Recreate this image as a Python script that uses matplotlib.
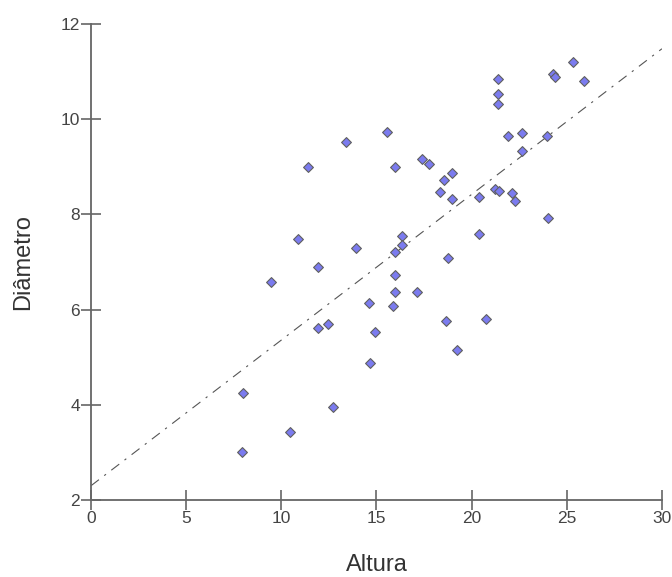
import matplotlib
matplotlib.use('Agg')
import matplotlib.pyplot as plt
import numpy as np

plt.rcParams['font.family'] = ['Liberation Sans', 'DejaVu Sans']

# Altura (x) vs Diâmetro (y)
altura = [7.95, 8.0, 9.44, 10.46, 10.88, 11.42, 11.94, 11.94, 12.45, 12.73,
          13.40, 13.94, 14.59, 14.66, 14.94, 15.57, 15.96, 15.96, 15.96, 15.96,
          15.87, 16.34, 16.34, 17.11, 17.39, 17.75, 18.34, 18.57, 18.65, 18.78,
          18.95, 18.95, 19.25, 20.40, 20.40, 20.74, 21.25, 21.44, 21.40, 21.40,
          21.40, 21.93, 22.10, 22.28, 22.65, 22.65, 23.96, 24.03, 24.30, 24.36,
          25.31, 25.91]
diametro = [3.01, 4.25, 6.58, 3.43, 7.49, 9.00, 6.90, 5.61, 5.70, 3.95,
            9.53, 7.30, 6.14, 4.88, 5.54, 9.73, 9.00, 7.22, 6.72, 6.38,
            6.08, 7.55, 7.36, 6.36, 9.16, 9.06, 8.47, 8.72, 5.77, 7.08,
            8.86, 8.32, 5.15, 8.37, 7.58, 5.80, 8.53, 8.49, 10.84, 10.54,
            10.32, 9.65, 8.44, 8.28, 9.70, 9.34, 9.65, 7.93, 10.94, 10.88,
            11.21, 10.80]

# fitted line
intercept = 2.30
slope = 0.306

fig = plt.figure(figsize=(6.72, 5.77), dpi=100)
ax = fig.add_axes([0.1354, 0.1334, 0.8496, 0.825])

xs = np.array([0, 30])
ax.plot(xs, intercept + slope * xs, color='#555555', lw=0.8,
        dashes=(9, 6, 2, 6), zorder=1)
ax.scatter(altura, diametro, marker='D', s=25, color='#7b7bef',
           edgecolors='#606060', linewidths=0.8, zorder=2)

ax.set_xlim(0, 30)
ax.set_ylim(2, 12)
ax.set_xticks(range(0, 31, 5))
ax.set_yticks(range(2, 13, 2))

for side in ['top', 'right']:
    ax.spines[side].set_visible(False)
for side in ['left', 'bottom']:
    ax.spines[side].set_color('#666666')
    ax.spines[side].set_linewidth(1.3)

ax.tick_params(direction='inout', length=14, width=1.2, color='#666666',
               labelsize=12.5, labelcolor='#444444', pad=1)

ax.set_xlabel('Altura', fontsize=17, color='#333333', labelpad=20)
ax.set_ylabel('Diâmetro', fontsize=17, color='#333333', labelpad=19)

fig.savefig('out.png', dpi=100)
